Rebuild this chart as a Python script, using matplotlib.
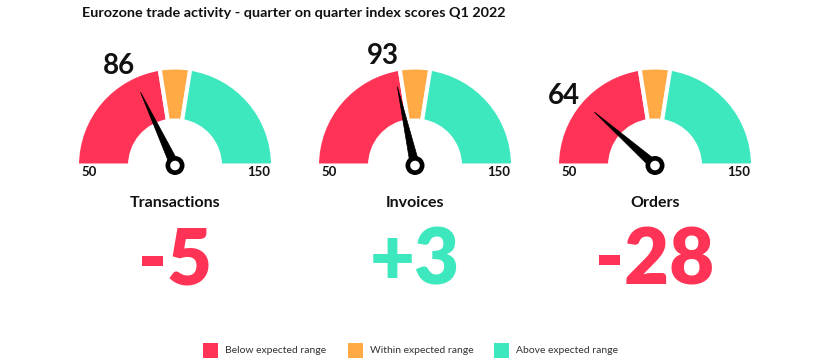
import numpy as np
import matplotlib
matplotlib.use("Agg")
import matplotlib.pyplot as plt
from matplotlib.patches import Wedge, Polygon, Circle, Rectangle

plt.rcParams['font.family'] = ['Lato', 'DejaVu Sans']

# ---- data ----
title = "Eurozone trade activity - quarter on quarter index scores Q1 2022"
gauges = ["Transactions", "Invoices", "Orders"]
scores = [86, 93, 64]            # index score label shown above each gauge
needle_readings = [86, 93, 73]   # value the needle points at, as drawn
changes = [-5, 3, -28]           # quarter on quarter change
scale_min, scale_max = 50, 150
band_edges = [50, 95, 105, 150]  # below / within / above expected range
band_names = ["Below expected range", "Within expected range", "Above expected range"]
band_colors = ["#FF3356", "#FFAA45", "#3DE8BE"]
neg_color, pos_color = "#FF3356", "#3DE8BE"

W, H = 820, 360
fig = plt.figure(figsize=(W / 100, H / 100), dpi=100)
ax = fig.add_axes([0, 0, 1, 1])
ax.set_xlim(0, W)
ax.set_ylim(0, H)
ax.set_aspect('equal')
ax.axis('off')

def Y(py):
    return H - py

def ang(v):
    return 180.0 - (v - scale_min) / (scale_max - scale_min) * 180.0

centers_x = [175, 415, 655]
cy = Y(165.5)
r_out, r_in = 98, 45

ax.text(82, Y(13), title, fontsize=10.4, fontweight='bold', color='#111111',
        ha='left', va='center')

for cx, name, score, needle, chg in zip(centers_x, gauges, scores, needle_readings, changes):
    for i in range(3):
        t1, t2 = ang(band_edges[i + 1]), ang(band_edges[i])
        ax.add_patch(Wedge((cx, cy), r_out, t1, t2, width=r_out - r_in,
                           facecolor=band_colors[i], edgecolor='white', lw=2.9))
    th = np.deg2rad(ang(needle))
    L, hw = 81, 4.6
    tip = (cx + L * np.cos(th), cy + L * np.sin(th))
    px, py = -np.sin(th), np.cos(th)
    base1 = (cx + hw * px, cy + hw * py)
    base2 = (cx - hw * px, cy - hw * py)
    ax.add_patch(Polygon([tip, base1, base2], closed=True, facecolor='black', edgecolor='black', lw=0.5))
    ax.add_patch(Circle((cx, cy), 9.5, facecolor='black', edgecolor='none'))
    ax.add_patch(Circle((cx, cy), 4.8, facecolor='white', edgecolor='none'))
    # score label near needle direction
    tl = np.deg2rad(ang(needle) + 3.5)
    ax.text(cx + 116 * np.cos(tl), cy + 116 * np.sin(tl) - 2, str(score), fontsize=20,
            fontweight='bold', color='#111111', ha='center', va='center')
    # scale ends
    ax.text(cx - 94, Y(172), str(scale_min), fontsize=9.5, fontweight='bold',
            color='#111111', ha='left', va='center')
    ax.text(cx + 95, Y(172), str(scale_max), fontsize=9.5, fontweight='bold',
            color='#111111', ha='right', va='center')
    ax.text(cx, Y(203), name, fontsize=11.5, fontweight='bold', color='#111111',
            ha='center', va='center')
    ax.text(cx, Y(262), f"{chg:+d}", fontsize=56, fontweight='heavy',
            color=neg_color if chg < 0 else pos_color, ha='center', va='center')

leg_x = [203, 348, 494]
for x, nm, c in zip(leg_x, band_names, band_colors):
    ax.add_patch(Rectangle((x, Y(358)), 15, 15, facecolor=c, edgecolor='none'))
    ax.text(x + 22, Y(350.5), nm, fontsize=7.5, color='#333333', ha='left', va='center')

fig.savefig("out.png", dpi=100)
